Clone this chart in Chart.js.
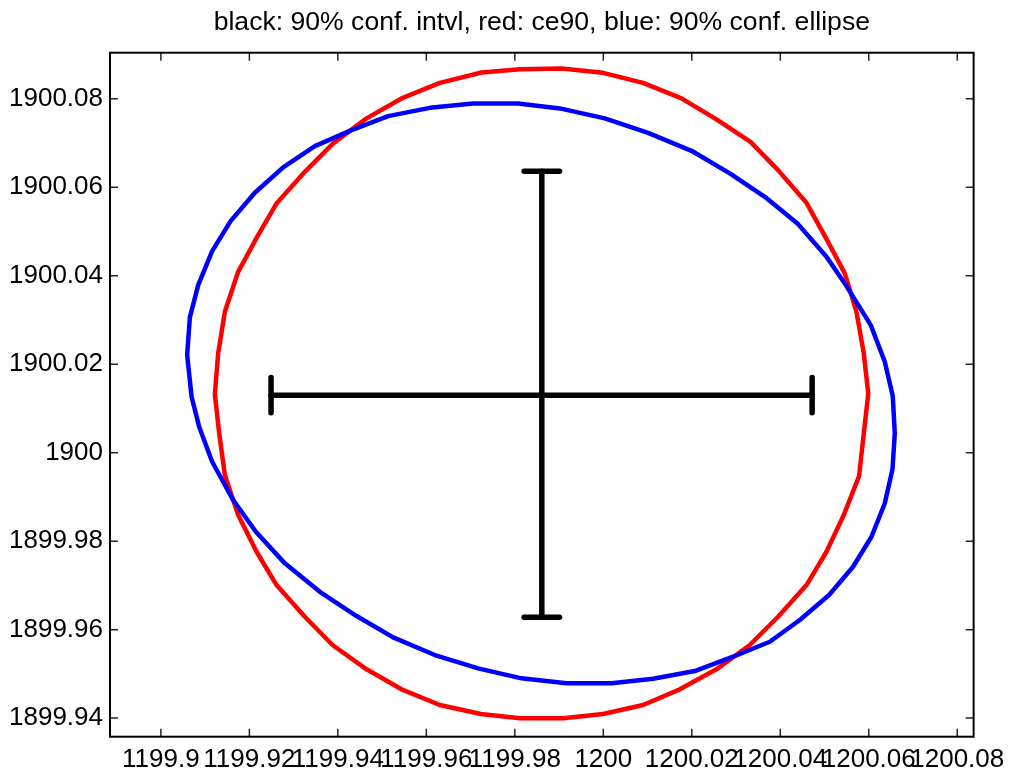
<!DOCTYPE html>
<html>
<head>
<meta charset="utf-8">
<script src="https://cdn.jsdelivr.net/npm/chart.js@4.4.1/dist/chart.umd.min.js"></script>
<style>
  html, body { margin: 0; padding: 0; background: #fff; }
  #grafico { display: block; }
</style>
</head>
<body>
<canvas id="grafico" width="1013" height="777"></canvas>
<script>
const titulo = 'black: 90% conf. intvl, red: ce90, blue: 90% conf. ellipse';

// eixos
const xTicks = [1199.90, 1199.92, 1199.94, 1199.96, 1199.98, 1200.00, 1200.02, 1200.04, 1200.06, 1200.08];
const xTickLabels = ['1199.9', '1199.92', '1199.94', '1199.96', '1199.98', '1200', '1200.02', '1200.04', '1200.06', '1200.08'];
const yTicks = [1899.94, 1899.96, 1899.98, 1900.00, 1900.02, 1900.04, 1900.06, 1900.08];
const yTickLabels = ['1899.94', '1899.96', '1899.98', '1900', '1900.02', '1900.04', '1900.06', '1900.08'];
const xMin = 1199.8885, xMax = 1200.0837;
const yMin = 1899.9358, yMax = 1900.0904;

// red: ce90
const redX = [1200.05989, 1200.05887, 1200.05722, 1200.05458, 1200.05058, 1200.04592, 1200.03950, 1200.03327, 1200.02558, 1200.01767,
    1200.00899, 1199.99995, 1199.99055, 1199.98113, 1199.97247, 1199.96305, 1199.95440, 1199.94649, 1199.93894, 1199.93254,
    1199.92615, 1199.92176, 1199.91747, 1199.91446, 1199.91295, 1199.91220, 1199.91318, 1199.91446, 1199.91747, 1199.92163,
    1199.92615, 1199.93254, 1199.93880, 1199.94649, 1199.95440, 1199.96305, 1199.97232, 1199.98113, 1199.99092, 1199.99995,
    1200.00899, 1200.01729, 1200.02558, 1200.03311, 1200.03950, 1200.04592, 1200.05044, 1200.05435, 1200.05781, 1200.05887];
const redY = [1900.01336, 1900.02244, 1900.03184, 1900.04052, 1900.04804, 1900.05647, 1900.06386, 1900.07026, 1900.07532, 1900.08007,
    1900.08359, 1900.08585, 1900.08685, 1900.08669, 1900.08594, 1900.08359, 1900.08007, 1900.07555, 1900.06990, 1900.06348,
    1900.05634, 1900.04879, 1900.04088, 1900.03184, 1900.02244, 1900.01324, 1900.00436, 1899.99494, 1899.98590, 1899.97760,
    1899.97008, 1899.96292, 1899.95652, 1899.95103, 1899.94651, 1899.94296, 1899.94093, 1899.93995, 1899.93995, 1899.94093,
    1899.94296, 1899.94651, 1899.95103, 1899.95652, 1899.96292, 1899.97008, 1899.97760, 1899.98590, 1899.99471, 1900.00436];

// blue: 90% conf. ellipse
const blueX = [1200.06542, 1200.06362, 1200.06045, 1200.05496, 1200.05044, 1200.04402, 1200.03650, 1200.02859, 1200.01993, 1200.01012,
    1200.00034, 1199.99017, 1199.98075, 1199.97058, 1199.96079, 1199.95137, 1199.94310, 1199.93480, 1199.92764, 1199.92124,
    1199.91575, 1199.91159, 1199.90843, 1199.90655, 1199.90594, 1199.90694, 1199.90865, 1199.91159, 1199.91634, 1199.92147,
    1199.92802, 1199.93593, 1199.94423, 1199.95250, 1199.96192, 1199.97171, 1199.98151, 1199.99168, 1200.00185, 1200.01125,
    1200.02068, 1200.02933, 1200.03763, 1200.04441, 1200.05103, 1200.05645, 1200.06061, 1200.06362, 1200.06536, 1200.06588];
const blueY = [1900.01279, 1900.02054, 1900.02884, 1900.03765, 1900.04427, 1900.05166, 1900.05783, 1900.06312, 1900.06823, 1900.07230,
    1900.07555, 1900.07781, 1900.07894, 1900.07894, 1900.07794, 1900.07607, 1900.07291, 1900.06929, 1900.06448, 1900.05874,
    1900.05234, 1900.04556, 1900.03788, 1900.03058, 1900.02206, 1900.01263, 1900.00585, 1899.99794, 1899.98929, 1899.98212,
    1899.97498, 1899.96856, 1899.96307, 1899.95826, 1899.95426, 1899.95125, 1899.94899, 1899.94786, 1899.94786, 1899.94890,
    1899.95064, 1899.95388, 1899.95727, 1899.96217, 1899.96782, 1899.97421, 1899.98099, 1899.98854, 1899.99623, 1900.00436];

// black: 90% conf. intvl
const centroX = 1199.9861, centroY = 1900.0130;
const intvlX = [1199.9249, 1200.0472];
const intvlY = [1899.9628, 1900.0636];
const capMeio = 0.004;

function poligono(xs, ys) {
    var pts = [];
    for (var i = 0; i < xs.length; i++) {
        pts.push({ x: xs[i], y: ys[i] });
    }
    pts.push({ x: xs[0], y: ys[0] }); // fecha a curva
    return pts;
}

function linha(dados, cor, largura) {
    return {
        data: dados,
        showLine: true,
        borderColor: cor,
        backgroundColor: cor,
        borderWidth: largura,
        pointRadius: 0,
        pointHoverRadius: 0,
        borderJoinStyle: 'round',
        borderCapStyle: 'round',
        tension: 0
    };
}

const datasets = [
    linha(poligono(blueX, blueY), '#0000ff', 4.5),
    linha(poligono(redX, redY), '#ff0000', 4.5),
    linha([{ x: intvlX[0], y: centroY }, { x: intvlX[1], y: centroY }], '#000000', 5.5),
    linha([{ x: centroX, y: intvlY[0] }, { x: centroX, y: intvlY[1] }], '#000000', 5.5),
    linha([{ x: intvlX[0], y: centroY - capMeio }, { x: intvlX[0], y: centroY + capMeio }], '#000000', 5.5),
    linha([{ x: intvlX[1], y: centroY - capMeio }, { x: intvlX[1], y: centroY + capMeio }], '#000000', 5.5),
    linha([{ x: centroX - capMeio, y: intvlY[0] }, { x: centroX + capMeio, y: intvlY[0] }], '#000000', 5.5),
    linha([{ x: centroX - capMeio, y: intvlY[1] }, { x: centroX + capMeio, y: intvlY[1] }], '#000000', 5.5)
];

// caixa e ticks para dentro, como no matlab
const moldura = {
    id: 'moldura',
    afterDatasetsDraw(chart) {
        const { ctx, chartArea: a, scales } = chart;
        ctx.save();
        ctx.strokeStyle = '#262626';
        ctx.lineWidth = 1.5;
        ctx.beginPath();
        xTicks.forEach(v => {
            const px = scales.x.getPixelForValue(v);
            ctx.moveTo(px, a.bottom); ctx.lineTo(px, a.bottom - 8);
            ctx.moveTo(px, a.top); ctx.lineTo(px, a.top + 8);
        });
        yTicks.forEach(v => {
            const py = scales.y.getPixelForValue(v);
            ctx.moveTo(a.left, py); ctx.lineTo(a.left + 8, py);
            ctx.moveTo(a.right, py); ctx.lineTo(a.right - 8, py);
        });
        ctx.stroke();
        ctx.strokeStyle = '#000000';
        ctx.lineWidth = 2;
        ctx.strokeRect(a.left, a.top, a.right - a.left, a.bottom - a.top);
        ctx.restore();
    }
};

const fonte = 'Liberation Sans, Arial, Helvetica, sans-serif';

new Chart(document.getElementById('grafico'), {
    type: 'scatter',
    data: { datasets: datasets },
    options: {
        responsive: false,
        animation: false,
        devicePixelRatio: 1,
        layout: { padding: { top: 0, right: 39, bottom: 0, left: 0 } },
        plugins: {
            legend: { display: false },
            tooltip: { enabled: false },
            title: {
                display: true,
                text: titulo,
                fullSize: false,
                color: '#000000',
                font: { family: fonte, size: 26.6, weight: 'normal' },
                padding: { top: 7, bottom: 13.8 }
            }
        },
        scales: {
            x: {
                type: 'linear',
                min: xMin,
                max: xMax,
                grid: { display: false, drawTicks: false },
                border: { display: false },
                afterBuildTicks: s => { s.ticks = xTicks.map(v => ({ value: v })); },
                afterFit: s => { s.height = 40.3; },
                ticks: {
                    autoSkip: false,
                    maxRotation: 0,
                    minRotation: 0,
                    padding: 8,
                    color: '#000000',
                    font: { family: fonte, size: 26 },
                    callback: (v, i) => xTickLabels[i]
                }
            },
            y: {
                type: 'linear',
                min: yMin,
                max: yMax,
                grid: { display: false, drawTicks: false },
                border: { display: false },
                afterBuildTicks: s => { s.ticks = yTicks.map(v => ({ value: v })); },
                afterFit: s => { s.width = 110; },
                ticks: {
                    autoSkip: false,
                    padding: 7,
                    color: '#000000',
                    font: { family: fonte, size: 26 },
                    callback: (v, i) => yTickLabels[i]
                }
            }
        }
    },
    plugins: [moldura]
});
</script>
</body>
</html>
